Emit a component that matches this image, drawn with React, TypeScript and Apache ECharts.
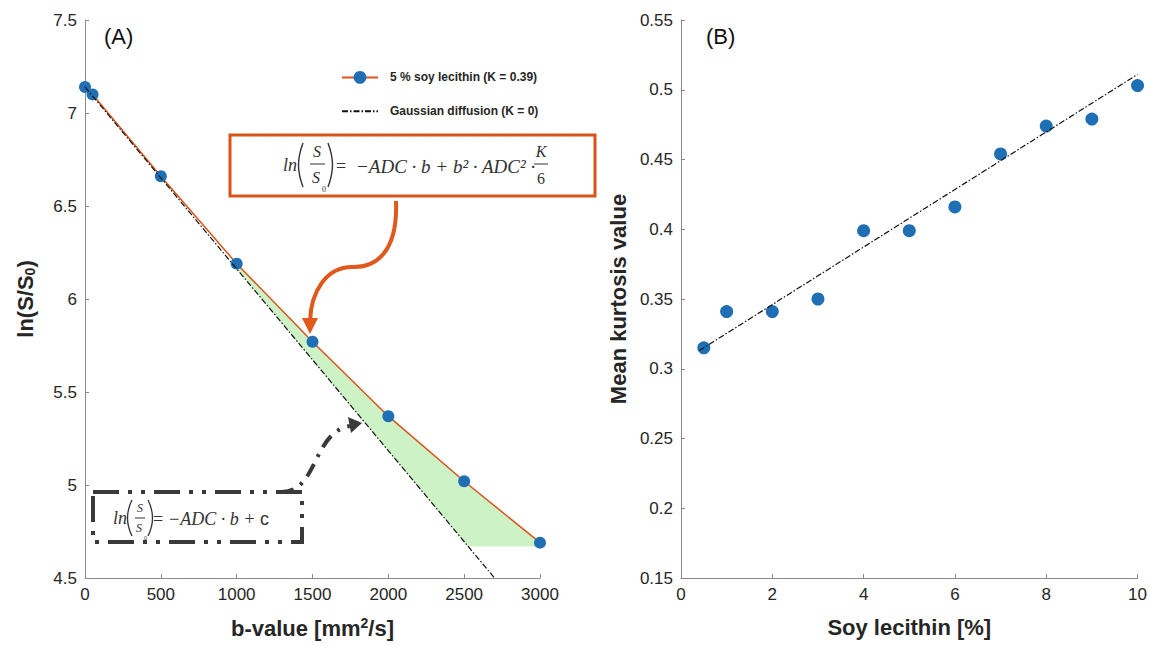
import React, { useEffect, useRef } from "react";
import * as echarts from "echarts";

// ---- Panel A data ----
const bValues = [0, 50, 500, 1000, 1500, 2000, 2500, 3000];
const lnSignal = [7.14, 7.1, 6.66, 6.19, 5.77, 5.37, 5.02, 4.69];
const gaussianB = [0, 2700];
const gaussianLn = [7.14, 4.5];
const shadeRegion = [
  [1000, 6.19],
  [1500, 5.77],
  [2000, 5.37],
  [2500, 5.02],
  [3000, 4.69],
  [3000, 4.67],
  [2525, 4.67],
  [1000, 6.162],
];
const bTicks = { min: 0, max: 3000, interval: 500 };
const lnTicks = { min: 4.5, max: 7.5, interval: 0.5 };

// ---- Panel B data ----
const soyPercent = [0.5, 1, 2, 3, 4, 5, 6, 7, 8, 9, 10];
const kurtosis = [0.315, 0.341, 0.341, 0.35, 0.399, 0.399, 0.416, 0.454, 0.474, 0.479, 0.503];
const fitX = [0.4, 10];
const fitY = [0.313, 0.511];
const soyTicks = { min: 0, max: 10, interval: 2 };
const mkTicks = { min: 0.15, max: 0.55, interval: 0.05 };

const legendNames = ["5 % soy lecithin (K = 0.39)", "Gaussian diffusion (K = 0)"];

const BLUE = "#1f6fb5";
const ORANGE = "#d9541a";
const AXIS = "#8a8a8a";
const LABEL = "#262626";
const SANS = "'Liberation Sans', Arial, sans-serif";
const SERIF = "'Liberation Serif', 'DejaVu Serif', serif";
const INK = "#333";

function axisCommon() {
  return {
    axisLine: { show: true, lineStyle: { color: AXIS, width: 1 } },
    axisTick: { show: true, inside: true, length: 4, lineStyle: { color: AXIS } },
    splitLine: { show: false },
    axisLabel: { color: LABEL, fontSize: 17, fontFamily: SANS, formatter: (v: number) => String(v) },
    nameLocation: "middle" as const,
    nameTextStyle: {
      color: LABEL,
      fontSize: 22,
      fontWeight: "bold" as const,
      fontFamily: SANS,
      rich: {
        sup: { fontSize: 14, fontWeight: "bold", verticalAlign: "top", color: LABEL, fontFamily: SANS, padding: [0, 0, 10, 0] },
        sub: { fontSize: 14, fontWeight: "bold", color: LABEL, fontFamily: SANS, padding: [10, 0, 0, 0] },
      },
    },
  };
}

function txt(x: number, y: number, text: string, size: number, opts: any = {}) {
  return {
    type: "text",
    z: 20,
    x,
    y,
    style: {
      text,
      fontSize: size,
      fontFamily: opts.family || SERIF,
      fontStyle: opts.italic === false ? "normal" : "italic",
      fontWeight: opts.weight || "normal",
      fill: opts.fill || INK,
      align: opts.align || "left",
      verticalAlign: "middle",
    },
  };
}

function paren(x: number, top: number, bottom: number, open: boolean, w = 1.3) {
  const mid = (top + bottom) / 2;
  const dx = open ? -6 : 6;
  return {
    type: "bezierCurve",
    z: 20,
    shape: { x1: x, y1: top, cpx1: x + dx, cpy1: mid - 6, cpx2: x + dx, cpy2: mid + 6, x2: x, y2: bottom },
    style: { stroke: INK, lineWidth: w, fill: "none" },
  };
}

function hline(x1: number, x2: number, y: number) {
  return { type: "line", z: 20, shape: { x1, y1: y, x2, y2: y }, style: { stroke: INK, lineWidth: 1 } };
}

export default function App() {
  const ref = useRef<HTMLDivElement>(null);
  useEffect(() => {
    if (!ref.current) return;
    const chart = echarts.init(ref.current, null, { renderer: "svg" });
    const ac = axisCommon();
    const option: any = {
      animation: false,
      backgroundColor: "#ffffff",
      grid: [
        { left: 85, right: 610, top: 20, bottom: 68 },
        { left: 681, right: 11, top: 20, bottom: 68 },
      ],
      legend: {
        data: [
          { name: legendNames[0] },
          { name: legendNames[1], itemStyle: { color: "rgba(0,0,0,0)", opacity: 0 } },
        ],
        orient: "vertical",
        left: 336,
        top: 66,
        itemGap: 21,
        itemWidth: 36,
        itemHeight: 16,
        textStyle: { fontSize: 12, fontWeight: "bold", fontFamily: SANS, color: LABEL, padding: [0, 0, 0, 7] },
      },
      xAxis: [
        { ...ac, gridIndex: 0, type: "value", ...bTicks, name: "b-value [mm{sup|2}/s]", nameGap: 38 },
        { ...ac, gridIndex: 1, type: "value", ...soyTicks, name: "Soy lecithin [%]", nameGap: 38 },
      ],
      yAxis: [
        { ...ac, gridIndex: 0, type: "value", ...lnTicks, name: "ln(S/S{sub|0})", nameGap: 48 },
        { ...ac, gridIndex: 1, type: "value", ...mkTicks, name: "Mean kurtosis value", nameGap: 52 },
      ],
      series: [
        {
          name: "shade",
          type: "custom",
          xAxisIndex: 0,
          yAxisIndex: 0,
          z: 1,
          silent: true,
          data: [[1000, 6]],
          renderItem: (_p: any, api: any) => ({
            type: "polygon",
            shape: { points: shadeRegion.map((pt) => api.coord(pt)) },
            style: { fill: "#ccf2c6", stroke: "none" },
          }),
        },
        {
          name: legendNames[0],
          type: "line",
          xAxisIndex: 0,
          yAxisIndex: 0,
          z: 3,
          data: bValues.map((b, i) => [b, lnSignal[i]]),
          symbol: "circle",
          symbolSize: 12,
          itemStyle: { color: BLUE, opacity: 1 },
          lineStyle: { color: ORANGE, width: 1.5 },
        },
        {
          name: legendNames[1],
          type: "line",
          xAxisIndex: 0,
          yAxisIndex: 0,
          z: 4,
          data: gaussianB.map((b, i) => [b, gaussianLn[i]]),
          symbol: "none",
          itemStyle: { color: "#111" },
          lineStyle: { color: "#111", width: 1.2, type: [6, 2, 1.5, 2] },
        },
        {
          name: "kurtosis",
          type: "scatter",
          xAxisIndex: 1,
          yAxisIndex: 1,
          z: 3,
          data: soyPercent.map((s, i) => [s, kurtosis[i]]),
          symbol: "circle",
          symbolSize: 13,
          itemStyle: { color: BLUE, opacity: 1 },
        },
        {
          name: "fit",
          type: "line",
          xAxisIndex: 1,
          yAxisIndex: 1,
          z: 4,
          data: fitX.map((x, i) => [x, fitY[i]]),
          symbol: "none",
          lineStyle: { color: "#111", width: 1.2, type: [6, 2, 1.5, 2] },
        },
      ],
      graphic: [
        // panel labels
        txt(104, 36, "(A)", 22, { family: SANS, italic: false, fill: "#111" }),
        txt(706, 36, "(B)", 22, { family: SANS, italic: false, fill: "#111" }),
        // orange formula box
        {
          type: "rect",
          z: 10,
          shape: { x: 230, y: 135, width: 365, height: 61 },
          style: { fill: "#ffffff", stroke: ORANGE, lineWidth: 3 },
        },
        txt(283, 165, "ln", 18),
        paren(303, 143, 187, true, 1.4),
        txt(317, 151, "S", 16, { align: "center" }),
        hline(310, 325, 164),
        txt(316, 177, "S", 16, { align: "center" }),
        txt(322, 189, "0", 8, { italic: false }),
        paren(328, 143, 187, false, 1.4),
        txt(336, 166, "=", 18, { italic: false }),
        txt(356, 166, "\u2212ADC \u00b7 b + b\u00b2 \u00b7 ADC\u00b2 \u00b7", 19),
        txt(541, 151, "K", 16, { align: "center" }),
        hline(534, 548, 164),
        txt(541, 178, "6", 16, { align: "center", italic: false }),
        // orange arrow
        {
          type: "bezierCurve",
          z: 10,
          shape: { x1: 396, y1: 201, cpx1: 398, cpy1: 252, cpx2: 376, cpy2: 268, x2: 352, y2: 267 },
          style: { stroke: "#e0581c", lineWidth: 4, fill: "none" },
        },
        {
          type: "bezierCurve",
          z: 10,
          shape: { x1: 352, y1: 267, cpx1: 326, cpy1: 267, cpx2: 311, cpy2: 292, x2: 310, y2: 321 },
          style: { stroke: "#e0581c", lineWidth: 4, fill: "none" },
        },
        {
          type: "polygon",
          z: 10,
          shape: { points: [[302, 318], [318, 318], [310, 334]] },
          style: { fill: "#e0581c" },
        },
        // dark dash-dot box
        {
          type: "rect",
          z: 10,
          shape: { x: 93, y: 492, width: 209, height: 50 },
          style: { fill: "rgba(255,255,255,0)", stroke: "#3a3a3a", lineWidth: 4, lineDash: [26, 9, 4, 9, 4, 9] },
        },
        txt(113, 518, "ln", 18),
        paren(132, 500, 536, true, 1.3),
        txt(140, 508, "S", 12, { align: "center" }),
        hline(135, 145, 518),
        txt(139, 528, "S", 12, { align: "center" }),
        txt(144, 538, "0", 6, { italic: false }),
        paren(148, 500, 536, false, 1.3),
        txt(153, 519, "=", 18, { italic: false }),
        txt(168, 519, "\u2212ADC \u00b7 b +", 18),
        txt(260, 519, "c", 18, { italic: false, family: SANS }),
        // dark arrow
        {
          type: "bezierCurve",
          z: 10,
          shape: { x1: 280, y1: 492, cpx1: 318, cpy1: 494, cpx2: 312, cpy2: 432, x2: 350, y2: 426 },
          style: { stroke: "#3a3a3a", lineWidth: 4, fill: "none", lineDash: [14, 8, 3, 8] },
        },
        {
          type: "polygon",
          z: 10,
          shape: { points: [[348, 417], [362, 423], [351, 433]] },
          style: { fill: "#3a3a3a" },
        },
      ],
    };
    chart.setOption(option);
    return () => chart.dispose();
  }, []);
  return (
    <div
      ref={ref}
      style={{ position: "fixed", left: 0, top: 0, width: 1150, height: 646, background: "#fff" }}
    />
  );
}
